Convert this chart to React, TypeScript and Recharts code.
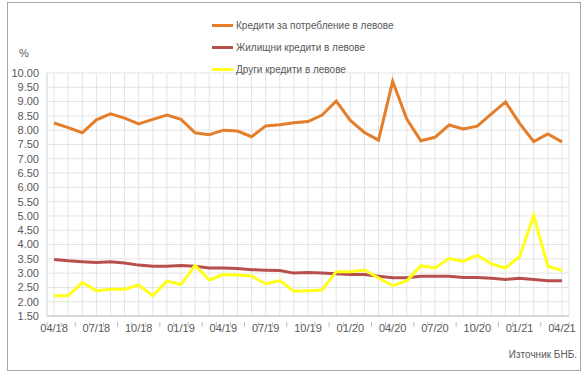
import React from "react";
import { CartesianGrid, Line, LineChart, XAxis, YAxis } from "recharts";

const months = [
  "04/18", "05/18", "06/18", "07/18", "08/18", "09/18", "10/18", "11/18", "12/18",
  "01/19", "02/19", "03/19", "04/19", "05/19", "06/19", "07/19", "08/19", "09/19",
  "10/19", "11/19", "12/19", "01/20", "02/20", "03/20", "04/20", "05/20", "06/20",
  "07/20", "08/20", "09/20", "10/20", "11/20", "12/20", "01/21", "02/21", "03/21",
  "04/21",
];

const consumer = [
  8.25, 8.09, 7.91, 8.36, 8.57, 8.42, 8.22, 8.38, 8.53, 8.38, 7.91, 7.84, 8.0, 7.97,
  7.77, 8.15, 8.19, 8.26, 8.3, 8.53, 9.02, 8.34, 7.92, 7.65, 9.71, 8.39, 7.63, 7.75,
  8.18, 8.04, 8.14, 8.57, 8.99, 8.24, 7.6, 7.87, 7.59,
];

const housing = [
  3.48, 3.43, 3.4, 3.37, 3.4, 3.35, 3.28, 3.24, 3.24, 3.27, 3.24, 3.18, 3.18, 3.16,
  3.12, 3.1, 3.09, 3.0, 3.02, 3.0, 2.98, 2.95, 2.95, 2.89, 2.84, 2.84, 2.89, 2.89,
  2.89, 2.85, 2.85, 2.82, 2.78, 2.82, 2.78, 2.73, 2.73,
];

const other = [
  2.21, 2.21, 2.67, 2.38, 2.44, 2.44, 2.58, 2.21, 2.72, 2.6, 3.27, 2.76, 2.95, 2.93,
  2.9, 2.62, 2.74, 2.37, 2.38, 2.41, 3.05, 3.05, 3.11, 2.83, 2.56, 2.73, 3.26, 3.18,
  3.51, 3.42, 3.63, 3.32, 3.18, 3.58, 5.01, 3.24, 3.09,
];

const yTicks = [1.5, 2, 2.5, 3, 3.5, 4, 4.5, 5, 5.5, 6, 6.5, 7, 7.5, 8, 8.5, 9, 9.5, 10];

const seriesNames = [
  "Кредити за потребление в левове",
  "Жилищни кредити в левове",
  "Други кредити в левове",
];

const COLORS = ["#E37E2B", "#B94F4C", "#FFFF1A"];
const FONT = "'Liberation Sans', Arial, sans-serif";
const TEXT = "#595959";
const GRID = "#E3E3E3";

const W = 586;
const H = 378;
const margin = { top: 73, right: 17, left: 0, bottom: 32 };
const Y_WIDTH = 47;
const step = (W - margin.left - margin.right - Y_WIDTH) / months.length;

const data = months.map((m, i) => ({
  month: m,
  consumer: consumer[i],
  housing: housing[i],
  other: other[i],
}));

function XTick(props: any) {
  const { x, y, payload, index } = props;
  const last = index === months.length - 1;
  return (
    <g>
      <line x1={x - step / 2} x2={x - step / 2} y1={y - 2} y2={y + 3} stroke="#BFBFBF" />
      {last && <line x1={x + step / 2} x2={x + step / 2} y1={y - 2} y2={y + 3} stroke="#BFBFBF" />}
      {index % 3 === 0 && (
        <text x={x} y={y + 8} textAnchor="middle" fill={TEXT} fontSize={11} fontFamily={FONT}>
          {payload.value}
        </text>
      )}
    </g>
  );
}

function ChartLegend() {
  return (
    <div style={{ position: "absolute", left: 212, top: 14, fontFamily: FONT, fontSize: 10, color: TEXT }}>
      {seriesNames.map((name, i) => (
        <div key={name} style={{ display: "flex", alignItems: "center", height: 22 }}>
          <span style={{ display: "inline-block", width: 21, height: 3, background: COLORS[i], marginRight: 3 }} />
          {name}
        </div>
      ))}
    </div>
  );
}

export default function App() {
  return (
    <div style={{ position: "absolute", left: 0, top: 0, width: W, height: H, background: "#fff" }}>
      <div
        style={{
          position: "absolute",
          left: 7,
          top: 2,
          width: 572,
          height: 367,
          border: "1px solid #A6A6A6",
        }}
      />
      <LineChart width={W} height={H} data={data} margin={margin}>
        <CartesianGrid stroke={GRID} />
        <XAxis
          dataKey="month"
          interval={0}
          padding={{ left: step / 2, right: step / 2 }}
          axisLine={{ stroke: "#BFBFBF" }}
          tickLine={false}
          tick={<XTick />}
          height={30}
        />
        <YAxis
          domain={[1.5, 10]}
          ticks={yTicks}
          interval={0}
          width={Y_WIDTH}
          tickFormatter={(v: number) => v.toFixed(2)}
          tick={{ fill: TEXT, fontSize: 11, fontFamily: FONT }}
          axisLine={{ stroke: "#D6DCE4" }}
          tickLine={false}
        />
        <Line dataKey="consumer" name={seriesNames[0]} stroke={COLORS[0]} strokeWidth={3} dot={false} isAnimationActive={false} />
        <Line dataKey="housing" name={seriesNames[1]} stroke={COLORS[1]} strokeWidth={3} dot={false} isAnimationActive={false} />
        <Line dataKey="other" name={seriesNames[2]} stroke={COLORS[2]} strokeWidth={3} dot={false} isAnimationActive={false} />
      </LineChart>
      <ChartLegend />
      <div style={{ position: "absolute", left: 19, top: 47, fontFamily: FONT, fontSize: 11, color: TEXT }}>%</div>
      <div style={{ position: "absolute", right: 9, top: 349, fontFamily: FONT, fontSize: 10, color: TEXT }}>
        Източник БНБ.
      </div>
    </div>
  );
}
